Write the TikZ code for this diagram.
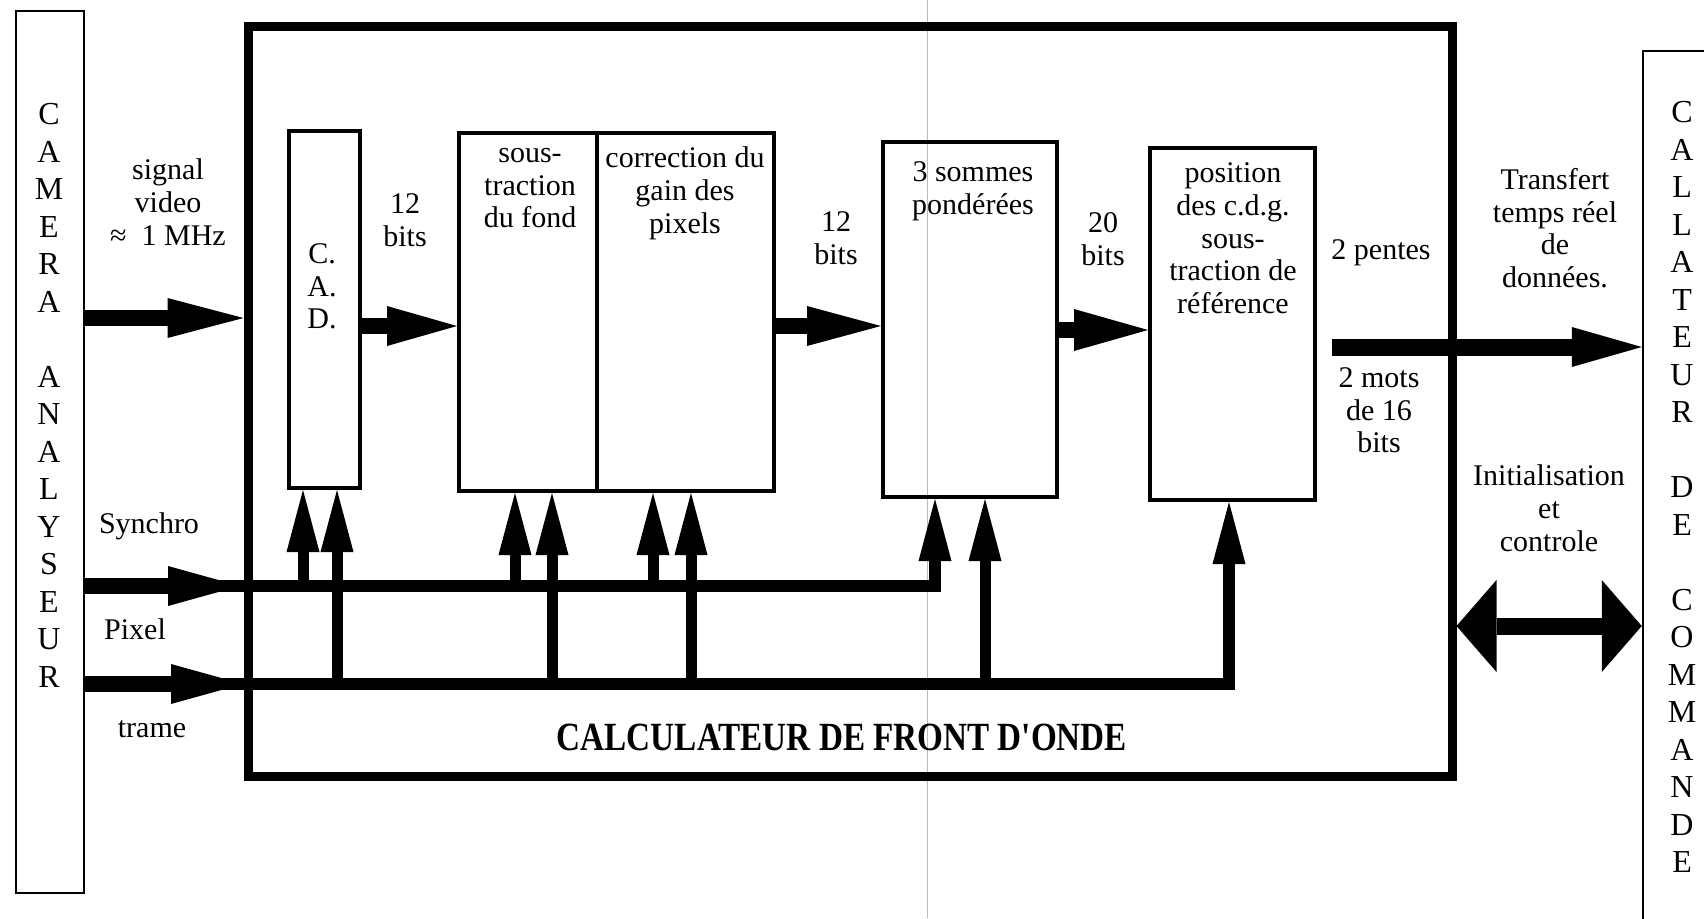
\documentclass[tikz,border=0pt]{standalone}
\usepackage{fontspec}
\setmainfont{Liberation Serif}
\newfontfamily\titlefont{Liberation Serif}
\usepackage{graphicx}
\usetikzlibrary{arrows.meta}
\tikzset{
  every node/.style={inner sep=0pt},
  thinbox/.style={draw, line width=2.5pt},
  mainbox/.style={draw, line width=9pt},
  blockbox/.style={draw, line width=4pt},
  lbl/.style={align=center, font=\fontsize{30}{32.6}\selectfont,
    execute at begin node=\strut, execute at end node=\strut},
  letters/.style={align=center, font=\fontsize{32}{37.5}\selectfont,
    execute at begin node=\strut, execute at end node=\strut},
  harrow/.style 2 args={line width=16pt, line cap=butt,
    -{Triangle[length=#1pt,width=#2pt,line width=0pt]}},
  varrow/.style={line width=11pt, line cap=butt, line join=miter,
    -{Triangle[length=62pt,width=33pt,line width=0pt]}},
  busarrow/.style={line width=12pt, line cap=butt, line join=miter,
    -{Triangle[length=62pt,width=33pt,line width=0pt]}},
  inarrow/.style={line width=16pt, line cap=butt,
    -{Triangle[length=72pt,width=40pt,line width=0pt]}},
  biarrow/.style={line width=17pt, line cap=butt,
    {Triangle[length=40pt,width=92pt,line width=0pt]}-{Triangle[length=40pt,width=92pt,line width=0pt]}},
}
\begin{document}
\begin{tikzpicture}[x=1pt,y=-1pt]
\useasboundingbox (0,0) rectangle (1704,918);
\fill[white] (0,0) rectangle (1704,918);

% scan fold line
\draw[gray!55, line width=1pt] (927,0) -- (927,918);

% outer boxes
\node[thinbox, minimum width=68pt, minimum height=882pt] (cam) at (50,452) {};
\node[thinbox, minimum width=117pt, minimum height=949pt] (cmd) at (1701.5,525.5) {};
\node[mainbox, minimum width=1204pt, minimum height=750pt] (calc) at (850,401) {};

% inner blocks
\node[blockbox, minimum width=71pt, minimum height=357pt] (cad) at (324.5,309.5) {};
\node[blockbox, minimum width=138pt, minimum height=358pt] (st) at (528,312) {};
\node[blockbox, minimum width=177pt, minimum height=358pt] (co) at (685.5,312) {};
\node[blockbox, minimum width=174pt, minimum height=355pt] (som) at (970,319.5) {};
\node[blockbox, minimum width=165pt, minimum height=352pt] (pos) at (1232.5,324) {};

% vertical texts
\node[letters] (camtxt) at (49,401) {C\\A\\M\\E\\R\\A\\\mbox{}\\A\\N\\A\\L\\Y\\S\\E\\U\\R};
\node[letters] (cmdtxt) at (1682,493) {C\\A\\L\\L\\A\\T\\E\\U\\R\\\mbox{}\\D\\E\\\mbox{}\\C\\O\\M\\M\\A\\N\\D\\E};

% labels
\node[lbl] (lsv) at (168,207) {signal\\video\\≈~~1 MHz};
\node[lbl] (lcad) at (322,291) {C.\\A.\\D.};
\node[lbl] (lb1) at (405,225) {12\\bits};
\node[lbl] (lst) at (530,193) {sous-\\traction\\du fond};
\node[lbl] (lco) at (685,195) {correction du\\gain des\\pixels};
\node[lbl] (lb2) at (836,243) {12\\bits};
\node[lbl] (lsom) at (973,193) {3 sommes\\pondérées};
\node[lbl] (lb3) at (1103,244) {20\\bits};
\node[lbl] (lpos) at (1233,243) {position\\des c.d.g.\\sous-\\traction de\\référence};
\node[lbl] (lpen) at (1381,253) {2 pentes};
\node[lbl] (lmot) at (1379,415) {2 mots\\de 16\\bits};
\node[lbl] (ltr) at (1555,233) {Transfert\\temps réel\\de\\données.};
\node[lbl] (lini) at (1549,513) {Initialisation\\et\\controle};
\node[lbl] (lsy) at (149,527) {Synchro};
\node[lbl] (lpx) at (135,633) {Pixel};
\node[lbl] (ltrame) at (152,731) {trame};
\node[font=\titlefont\bfseries\fontsize{40}{44}\selectfont] (title) at (842,737)
  {\scalebox{0.83}[1]{CALCULATEUR DE FRONT D'ONDE}};

% coordinates
\coordinate (ysv) at (0,318);
\coordinate (yd1) at (0,326);
\coordinate (yd2) at (0,330);
\coordinate (outs) at (1332,347);
\coordinate (ybi) at (0,626);
\coordinate (ysy) at (0,586);
\coordinate (ypx) at (0,684);
\coordinate (sytip) at (240,586);
\coordinate (pxtip) at (243,684);
\coordinate (sycorner) at (935,586);
\coordinate (pxcorner) at (1229,684);

% data path
\draw[harrow={76}{40}] (cam.east |- ysv) -- (calc.west |- ysv);
\draw[harrow={70}{40}] (cad.east |- yd1) -- (st.west |- yd1);
\draw[harrow={74}{40}] (co.east |- yd1) -- (som.west |- yd1);
\draw[harrow={74}{42}] (som.east |- yd2) -- (pos.west |- yd2);
\draw[harrow={70}{40}, line width=17pt] (outs) -- (cmd.west |- outs);
\draw[biarrow] (calc.east |- ybi) -- (cmd.west |- ybi);

% control buses
\draw[busarrow] (cam.east |- ysy) -- (sycorner) -- (sycorner |- som.south);
\draw[busarrow] (cam.east |- ypx) -- (pxcorner) -- (pxcorner |- pos.south);
\draw[inarrow] (cam.east |- ysy) -- (sytip);
\draw[inarrow] (cam.east |- ypx) -- (pxtip);

% vertical taps
\coordinate (a1) at (303,586);
\coordinate (a2) at (337,684);
\coordinate (a3) at (515,586);
\coordinate (a4) at (552,684);
\coordinate (a5) at (653,586);
\coordinate (a6) at (691,684);
\coordinate (a7) at (985,684);
\draw[varrow] (a1) -- (a1 |- cad.south);
\draw[varrow] (a2) -- (a2 |- cad.south);
\draw[varrow] (a3) -- (a3 |- st.south);
\draw[varrow] (a4) -- (a4 |- st.south);
\draw[varrow] (a5) -- (a5 |- co.south);
\draw[varrow] (a6) -- (a6 |- co.south);
\draw[varrow] (a7) -- (a7 |- som.south);
\end{tikzpicture}
\end{document}
